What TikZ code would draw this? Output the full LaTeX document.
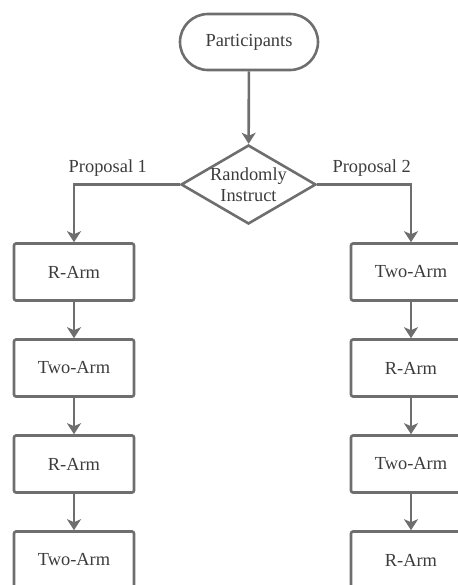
\documentclass[tikz,border=0pt]{standalone}
\usepackage{fontspec}
\setmainfont{Liberation Serif}
\usetikzlibrary{arrows.meta,shapes}
\definecolor{linegray}{HTML}{6E6E6E}
\definecolor{textgray}{HTML}{3C3C3C}

\begin{document}
\begin{tikzpicture}[x=0.5pt,y=-0.5pt,font=\fontsize{9.2}{10.5}\selectfont,text=textgray,
  start/.style={draw=linegray,line width=1.3pt,rounded corners=14pt,minimum width=69pt,minimum height=28pt},
  decision/.style={diamond,draw=linegray,line width=1.3pt,align=center,inner sep=-4pt,minimum width=67.5pt,minimum height=39.5pt},
  arm/.style={draw=linegray,line width=1.3pt,rounded corners=1pt,minimum width=60pt,minimum height=28.5pt},
  flow/.style={draw=linegray,line width=1.3pt,-{Stealth[length=5.5pt,width=7pt,inset=1.5pt]}}]
\useasboundingbox (0,0) rectangle (458,585);
\node[start] at (249,42) (part) {Participants};
\node[decision] at (248.5,184.5) (rand) {Randomly\\Instruct};
\node[arm] at (74,272) (l1) {R-Arm};
\node[arm] at (74,368) (l2) {Two-Arm};
\node[arm] at (74,464) (l3) {R-Arm};
\node[arm] at (74,560) (l4) {Two-Arm};
\node[arm] at (411,272) (r1) {Two-Arm};
\node[arm] at (411,368) (r2) {R-Arm};
\node[arm] at (411,464) (r3) {Two-Arm};
\node[arm] at (411,560) (r4) {R-Arm};
\draw[flow] (part) -- (rand);
\draw[flow] (rand.west) -| node[pos=0.34,above] {Proposal 1} (l1);
\draw[flow] (rand.east) -| node[pos=0.29,above] {Proposal 2} (r1);
\draw[flow] (l1) -- (l2);
\draw[flow] (l2) -- (l3);
\draw[flow] (l3) -- (l4);
\draw[flow] (r1) -- (r2);
\draw[flow] (r2) -- (r3);
\draw[flow] (r3) -- (r4);
\end{tikzpicture}
\end{document}
